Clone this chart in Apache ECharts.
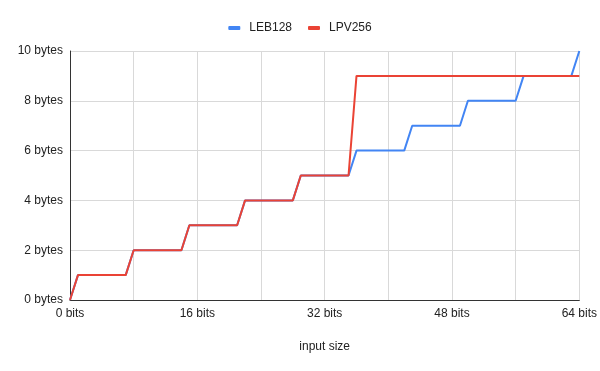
<!DOCTYPE html>
<html>
<head>
<meta charset="utf-8">
<script src="https://cdn.jsdelivr.net/npm/echarts@6/dist/echarts.min.js"></script>
<style>html,body{margin:0;padding:0;background:#fff;}#c{width:600px;height:371px;}</style>
</head>
<body>
<div id="c"></div>
<script>
var bits = [0,1,2,3,4,5,6,7,8,9,10,11,12,13,14,15,16,17,18,19,20,21,22,23,24,25,26,27,28,29,30,31,32,33,34,35,36,37,38,39,40,41,42,43,44,45,46,47,48,49,50,51,52,53,54,55,56,57,58,59,60,61,62,63,64];
var leb128 = [0,
  1,1,1,1,1,1,1,
  2,2,2,2,2,2,2,
  3,3,3,3,3,3,3,
  4,4,4,4,4,4,4,
  5,5,5,5,5,5,5,
  6,6,6,6,6,6,6,
  7,7,7,7,7,7,7,
  8,8,8,8,8,8,8,
  9,9,9,9,9,9,9,
  10];
var lpv256 = [0,
  1,1,1,1,1,1,1,
  2,2,2,2,2,2,2,
  3,3,3,3,3,3,3,
  4,4,4,4,4,4,4,
  5,5,5,5,5,5,5,
  9,9,9,9,9,9,9,9,9,9,9,9,9,9,9,9,9,9,9,9,9,9,9,9,9,9,9,9,9];
var seriesNames = ['LEB128', 'LPV256'];
var xTickLabels = ['0 bits', '16 bits', '32 bits', '48 bits', '64 bits'];

function pairs(vals){ return bits.map(function(b,i){ return [b, vals[i]]; }); }

var chart = echarts.init(document.getElementById('c'), null, {renderer:'canvas'});
var font = 'Liberation Sans, Arial, sans-serif';
chart.setOption({
  animation:false,
  textStyle:{fontFamily:font},
  legend:{
    top:17, left:'center',
    itemWidth:12, itemHeight:4, itemGap:16,
    icon:'roundRect',
    textStyle:{fontSize:12, color:'#222', fontFamily:font, padding:[0,0,0,4]},
    data:seriesNames
  },
  grid:{left:70, right:19, top:51, bottom:71},
  xAxis:{
    type:'value', min:0, max:64, interval:8,
    name:'input size', nameLocation:'middle', nameGap:41,
    nameTextStyle:{fontSize:12, color:'#222'},
    axisLine:{lineStyle:{color:'#333', width:1}},
    axisTick:{show:false},
    axisLabel:{fontSize:12, color:'#222', margin:8,
      formatter:function(v){ return v % 16 === 0 ? xTickLabels[v/16] : ''; }},
    splitLine:{show:true, lineStyle:{color:'#d9d9d9', width:1}}
  },
  yAxis:{
    type:'value', min:0, max:10, interval:2,
    axisLine:{show:true, lineStyle:{color:'#333', width:1}},
    axisTick:{show:false},
    axisLabel:{fontSize:12, color:'#222', margin:7, formatter:function(v){ return v + ' bytes'; }},
    splitLine:{show:true, lineStyle:{color:'#d9d9d9', width:1}}
  },
  series:[
    {name:seriesNames[0], type:'line', data:pairs(leb128), showSymbol:false, symbol:'none',
     lineStyle:{color:'#4285F4', width:2}, itemStyle:{color:'#4285F4'}, z:2},
    {name:seriesNames[1], type:'line', data:pairs(lpv256), showSymbol:false, symbol:'none',
     lineStyle:{color:'#EA4335', width:2}, itemStyle:{color:'#EA4335'}, z:3}
  ]
});
</script>
</body>
</html>
